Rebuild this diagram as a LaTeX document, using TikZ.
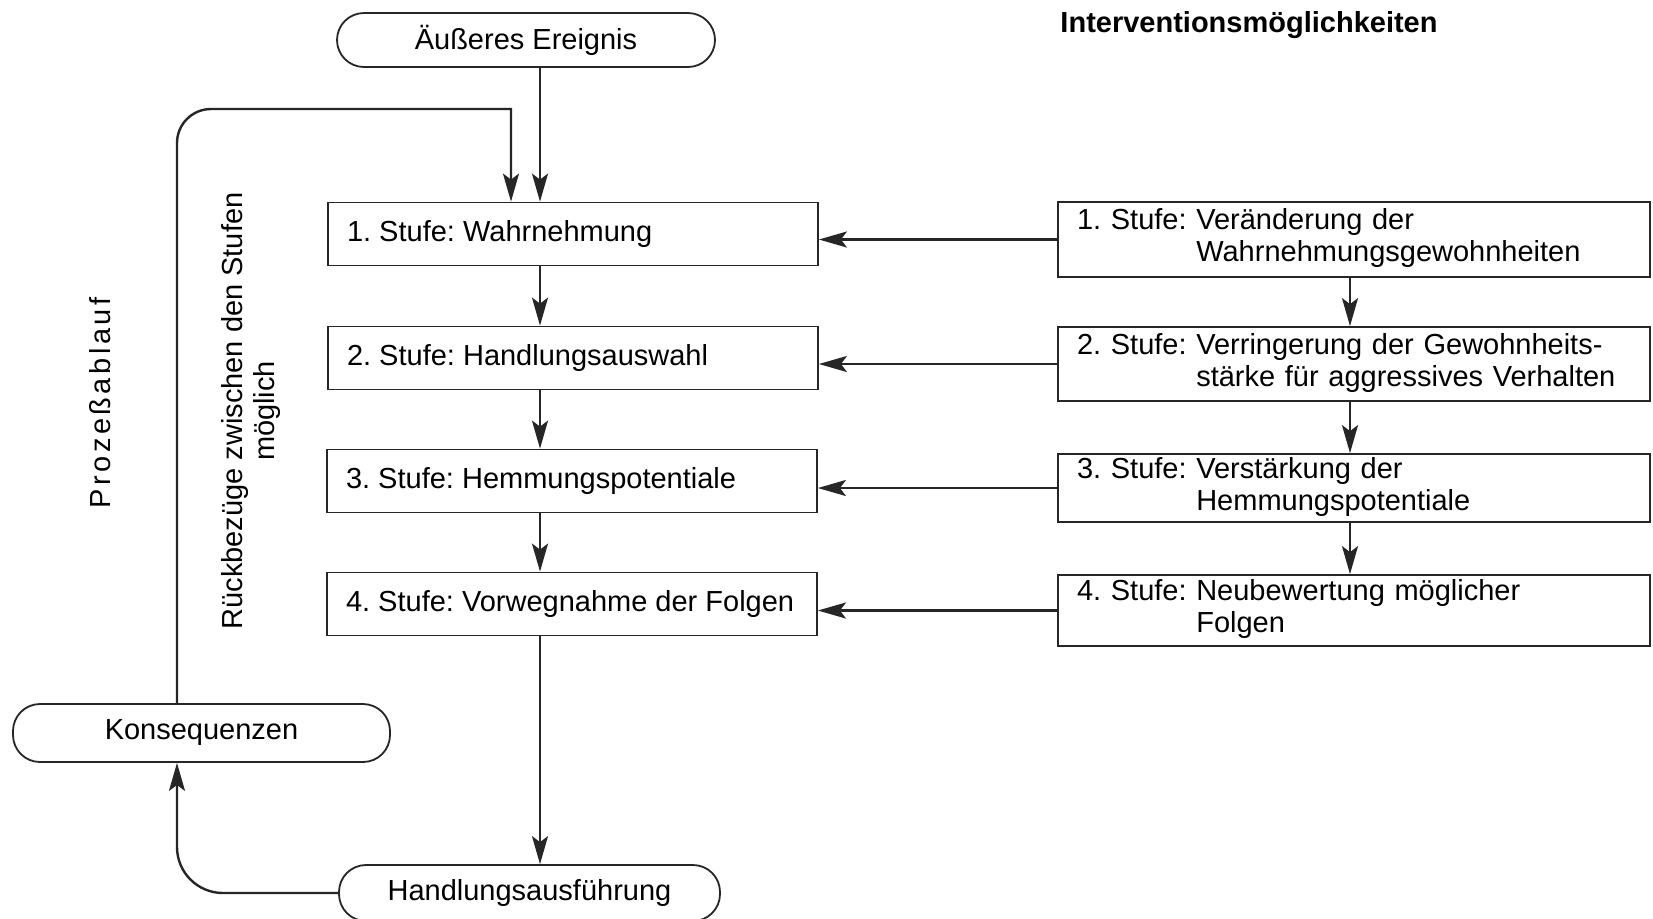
\documentclass[tikz,border=0pt]{standalone}
\usepackage{fontspec}
\setmainfont{Liberation Sans}
\usetikzlibrary{arrows.meta}
\newcommand\lline[1]{\hbox to 226pt{#1\hss}}
\begin{document}
\frenchspacing
\begin{tikzpicture}[x=0.5pt,y=-0.5pt,
  font=\fontsize{14.5pt}{16pt}\selectfont\frenchspacing,
  line/.style={draw=black!85, line width=1.2pt},
  arr/.style={line, -{Stealth[length=14pt,width=8pt,inset=3pt]}},
  lbox/.style={draw=black!85, line width=0.9pt, rectangle, inner xsep=9.5pt, inner ysep=1pt, minimum height=31.5pt},
  rbox/.style={draw=black!85, line width=0.9pt, rectangle, text width=277pt, inner xsep=9.5pt, inner ysep=1pt, align=left},
  pill/.style={draw=black!85, line width=0.9pt, rectangle, rounded corners=13.5pt, minimum height=27pt, align=center}
]
\useasboundingbox (0,0) rectangle (1653,918);
\fill[white] (0,0) rectangle (1653,918);

% coordinates for connector columns
\coordinate (mx) at (540,0);
\coordinate (fx) at (511,0);
\coordinate (lx) at (177,0);
\coordinate (rx) at (1350,0);
\coordinate (fy) at (0,109);

% nodes
\node[pill, minimum width=189pt] (ae) at (526,40) {Äußeres Ereignis};
\node[font=\fontsize{14.5pt}{16pt}\selectfont\bfseries] (title) at (1249,25) {Interventionsmöglichkeiten};

\node[lbox] (L1) at (573,234) {\lline{1. Stufe: Wahrnehmung}};
\node[lbox] (L2) at (573,358) {\lline{2. Stufe: Handlungsauswahl}};
\node[lbox] (L3) at (572,481) {\lline{3. Stufe: Hemmungspotentiale}};
\node[lbox] (L4) at (572,604) {\lline{4. Stufe: Vorwegnahme der Folgen}};

\node[rbox, minimum height=37.5pt] (R1) at (1354,239.5) {\begin{tabular}{@{}l@{\ }l@{}}1. Stufe: & Veränderung der\\ & Wahrnehmungsgewohnheiten\end{tabular}};
\node[rbox, minimum height=37pt] (R2) at (1354,364) {\begin{tabular}{@{}l@{\ }l@{}}2. Stufe: & Verringerung der Gewohnheits-\\ & stärke für aggressives Verhalten\end{tabular}};
\node[rbox, minimum height=33pt] (R3) at (1354,488) {\begin{tabular}{@{}l@{\ }l@{}}3. Stufe: & Verstärkung der\\ & Hemmungspotentiale\end{tabular}};
\node[rbox, minimum height=35.5pt] (R4) at (1354,610.5) {\begin{tabular}{@{}l@{\ }l@{}}4. Stufe: & Neubewertung möglicher\\ & Folgen\end{tabular}};

\node[pill, minimum width=188.5pt, minimum height=29pt] (kon) at (201.5,733) {Konsequenzen};
\node[pill, minimum width=190.5pt, minimum height=28pt] (ha) at (529.5,893) {Handlungsausführung};

\node[rotate=90, font=\fontsize{14.5pt}{16pt}\selectfont\addfontfeatures{LetterSpace=12}] (proz) at (100,403) {Prozeßablauf};
\node[rotate=90, align=center] (rueck) at (251,411) {Rückbezüge zwischen den Stufen\\möglich};

% main flow
\draw[arr] (ae.south -| mx) -- (L1.north -| mx);
\draw[arr] (L1.south -| mx) -- (L2.north -| mx);
\draw[arr] (L2.south -| mx) -- (L3.north -| mx);
\draw[arr] (L3.south -| mx) -- (L4.north -| mx);
\draw[arr] (L4.south -| mx) -- (ha.north -| mx);

% feedback loop
\draw[arr] (kon.north -| lx) [rounded corners=17pt] -- (lx |- fy) [sharp corners] -- (fx |- fy) -- (L1.north -| fx);
\draw[arr] (ha.west) [rounded corners=23pt] -- (ha.west -| lx) [sharp corners] -- (kon.south -| lx);

% interventions
\draw[arr] (R1.south -| rx) -- (R2.north -| rx);
\draw[arr] (R2.south -| rx) -- (R3.north -| rx);
\draw[arr] (R3.south -| rx) -- (R4.north -| rx);
\draw[arr] (R1.west) -- (R1.west -| L1.east);
\draw[arr] (R2.west) -- (R2.west -| L2.east);
\draw[arr] (R3.west) -- (R3.west -| L3.east);
\draw[arr] (R4.west) -- (R4.west -| L4.east);
\end{tikzpicture}
\end{document}
